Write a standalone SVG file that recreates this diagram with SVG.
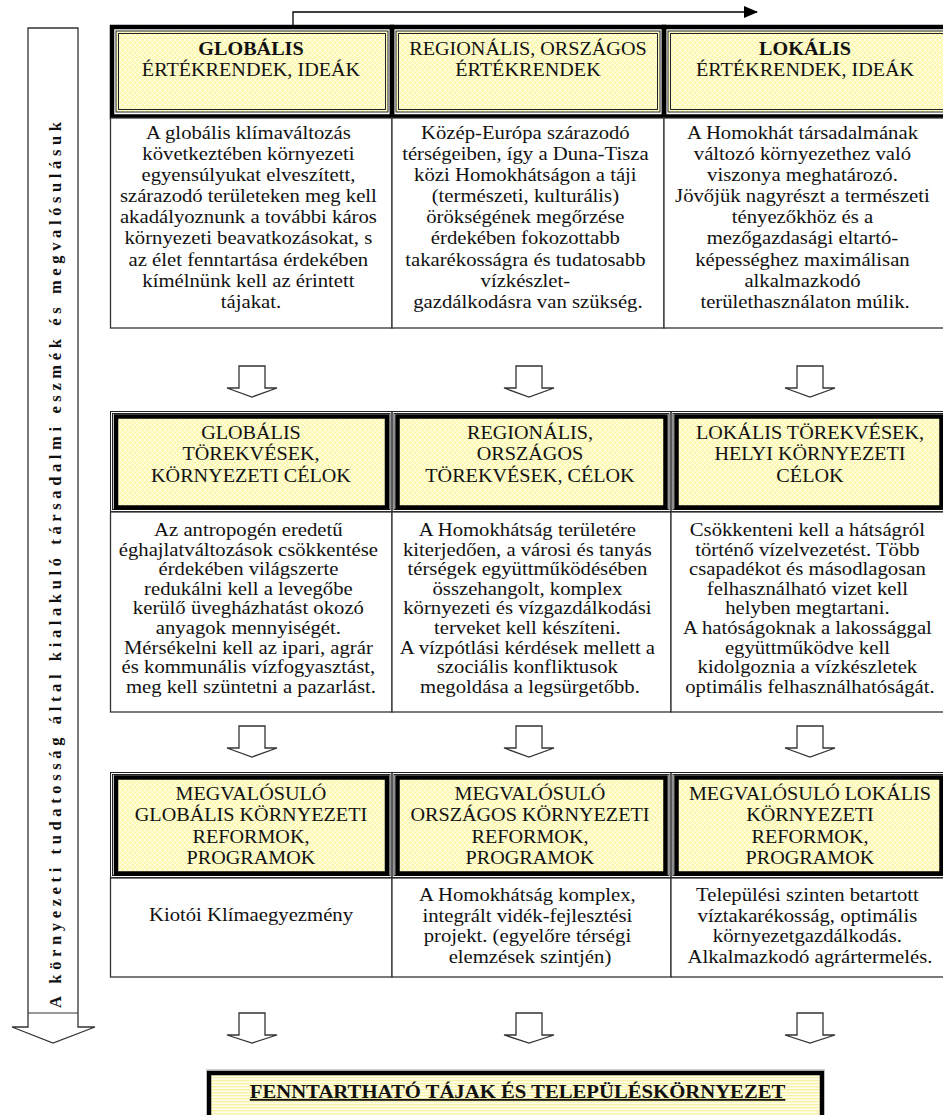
<svg xmlns="http://www.w3.org/2000/svg" width="943" height="1115" viewBox="0 0 943 1115">
  <defs>
    <!-- pale yellow lattice used in the heading boxes -->
    <pattern id="lattice" width="5" height="5" patternUnits="userSpaceOnUse">
      <rect width="5" height="5" fill="#fbf8b2"/>
      <path d="M0 0L5 5M5 0L0 5" stroke="#fffde6" stroke-width="1"/>
    </pattern>
    <!-- horizontal stripes for the closing box -->
    <pattern id="stripes" width="6" height="3" patternUnits="userSpaceOnUse">
      <rect width="6" height="3" fill="#fffeec"/>
      <rect width="6" height="1.4" fill="#f8f2a6"/>
    </pattern>
    <marker id="tri" markerWidth="14" markerHeight="12" refX="13" refY="6" orient="auto" markerUnits="userSpaceOnUse">
      <path d="M0 0L14 6L0 12Z" fill="#000"/>
    </marker>
    <style>
      .t{font-family:"Liberation Serif","Times New Roman",serif;font-size:18.5px;fill:#111;text-anchor:middle}
      .h{font-size:18px}
      .b{font-weight:bold}
      .thick{fill:none;stroke:#000;stroke-width:4.5}
      .thin{fill:none;stroke:#222;stroke-width:1}
      .box{fill:#fff;stroke:#333;stroke-width:1.3}
      .yel{fill:url(#lattice)}
      .yelb{fill:url(#lattice);stroke:#000;stroke-width:4.5}
      .hollow{fill:#fff;stroke:#333;stroke-width:1.3}
      .side{font-family:"Liberation Serif","Times New Roman",serif;font-size:16.5px;font-weight:bold;fill:#111}
    </style>
  </defs>

  <rect width="943" height="1115" fill="#fff"/>

  <!-- vertical side arrow with its caption -->
  <g id="awareness-arrow">
    <path d="M28 28H78V1027H95L53 1043L12 1027H28Z" fill="#fff" stroke="#333" stroke-width="1.3"/>
    <line x1="28" y1="1013" x2="78" y2="1013" stroke="#333" stroke-width="1"/>
    <text class="side" transform="translate(61,1008) rotate(-90)" textLength="886" lengthAdjust="spacing">A környezeti tudatosság által kialakuló társadalmi eszmék és megvalósulásuk</text>
  </g>

  <!-- ===== row 1: values and ideas ===== -->
  <g id="global-values-head">
    <rect class="yel" x="116" y="31" width="272" height="81"/>
    <rect class="thin" x="116" y="31" width="272" height="81"/>
    <rect class="thin" x="118.5" y="33.5" width="267" height="76"/>
    <rect class="thick" x="112" y="27" width="280" height="89.5"/>
    <text class="t h" transform="scale(1.12 1)"><tspan class="b" x="224.1" y="55">GLOBÁLIS</tspan><tspan x="224.1" y="76">ÉRTÉKRENDEK, IDEÁK</tspan></text>
  </g>
  <g id="regional-values-head">
    <rect class="yel" x="396" y="31" width="264" height="81"/>
    <rect class="thin" x="396" y="31" width="264" height="81"/>
    <rect class="thin" x="398.5" y="33.5" width="259" height="76"/>
    <rect class="thick" x="392" y="27" width="272" height="89.5"/>
    <text class="t h" transform="scale(1.12 1)"><tspan x="471.4" y="55">REGIONÁLIS, ORSZÁGOS</tspan><tspan x="471.4" y="76">ÉRTÉKRENDEK</tspan></text>
  </g>
  <g id="local-values-head">
    <rect class="yel" x="668" y="31" width="290" height="81"/>
    <rect class="thin" x="668" y="31" width="290" height="81"/>
    <rect class="thin" x="670.5" y="33.5" width="285" height="76"/>
    <rect class="thick" x="664" y="27" width="300" height="89.5"/>
    <text class="t h" transform="scale(1.12 1)"><tspan class="b" x="718.8" y="55">LOKÁLIS</tspan><tspan x="718.8" y="76">ÉRTÉKRENDEK, IDEÁK</tspan></text>
  </g>

  <g id="global-values-body">
    <rect class="box" x="110.5" y="118" width="281.5" height="210"/>
    <text class="t" transform="scale(1.12 1)">
      <tspan x="224.1" y="139">A globális klímaváltozás</tspan>
      <tspan x="224.1" y="160.1">következtében környezeti</tspan>
      <tspan x="224.1" y="181.2">egyensúlyukat elveszített,</tspan>
      <tspan x="224.1" y="202.3">szárazodó területeken meg kell</tspan>
      <tspan x="224.1" y="223.4">akadályoznunk a további káros</tspan>
      <tspan x="224.1" y="244.5">környezeti beavatkozásokat, s</tspan>
      <tspan x="224.1" y="265.6">az élet fenntartása érdekében</tspan>
      <tspan x="224.1" y="286.7">kímélnünk kell az érintett</tspan>
      <tspan x="224.1" y="308">tájakat.</tspan>
    </text>
  </g>
  <g id="regional-values-body">
    <rect class="box" x="392" y="118" width="272" height="210"/>
    <text class="t" transform="scale(1.12 1)">
      <tspan x="471.4" y="139">Közép-Európa szárazodó</tspan>
      <tspan x="471.4" y="160.1">térségeiben, így a Duna-Tisza</tspan>
      <tspan x="471.4" y="181.2">közi Homokhátságon a táji</tspan>
      <tspan x="471.4" y="202.3">(természeti, kulturális)</tspan>
      <tspan x="471.4" y="223.4">örökségének megőrzése</tspan>
      <tspan x="471.4" y="244.5">érdekében fokozottabb</tspan>
      <tspan x="471.4" y="265.6">takarékosságra és tudatosabb</tspan>
      <tspan x="471.4" y="286.7">vízkészlet-</tspan>
      <tspan x="471.4" y="308">gazdálkodásra van szükség.</tspan>
    </text>
  </g>
  <g id="local-values-body">
    <rect class="box" x="664" y="118" width="300" height="210"/>
    <text class="t" transform="scale(1.12 1)">
      <tspan x="718.8" y="139">A Homokhát társadalmának</tspan>
      <tspan x="718.8" y="160.1">változó környezethez való</tspan>
      <tspan x="718.8" y="181.2">viszonya meghatározó.</tspan>
      <tspan x="718.8" y="202.3">Jövőjük nagyrészt a természeti</tspan>
      <tspan x="718.8" y="223.4">tényezőkhöz és a</tspan>
      <tspan x="718.8" y="244.5">mezőgazdasági eltartó-</tspan>
      <tspan x="718.8" y="265.6">képességhez maximálisan</tspan>
      <tspan x="718.8" y="286.7">alkalmazkodó</tspan>
      <tspan x="718.8" y="308">területhasználaton múlik.</tspan>
    </text>
  </g>

  <!-- ===== row 2: aims ===== -->
  <g id="global-aims-head">
    <rect class="thin" x="110.5" y="411.5" width="281.5" height="100"/>
    <rect class="thin" x="112.5" y="413.5" width="277.5" height="96"/>
    <rect class="yelb" x="116" y="416.5" width="271" height="91"/>
    <text class="t h" transform="scale(1.12 1)"><tspan x="224.1" y="439">GLOBÁLIS</tspan><tspan x="224.1" y="460.5">TÖREKVÉSEK,</tspan><tspan x="224.1" y="482">KÖRNYEZETI CÉLOK</tspan></text>
  </g>
  <g id="regional-aims-head">
    <rect class="thin" x="392" y="411.5" width="279" height="100"/>
    <rect class="thin" x="394" y="413.5" width="275" height="96"/>
    <rect class="yelb" x="397.5" y="416.5" width="268" height="91"/>
    <text class="t h" transform="scale(1.12 1)"><tspan x="473.2" y="439">REGIONÁLIS,</tspan><tspan x="473.2" y="460.5">ORSZÁGOS</tspan><tspan x="473.2" y="482">TÖREKVÉSEK, CÉLOK</tspan></text>
  </g>
  <g id="local-aims-head">
    <rect class="thin" x="671" y="411.5" width="290" height="100"/>
    <rect class="thin" x="673" y="413.5" width="286" height="96"/>
    <rect class="yelb" x="676.5" y="416.5" width="265" height="91"/>
    <text class="t h" transform="scale(1.12 1)"><tspan x="723.2" y="439">LOKÁLIS TÖREKVÉSEK,</tspan><tspan x="723.2" y="460.5">HELYI KÖRNYEZETI</tspan><tspan x="723.2" y="482">CÉLOK</tspan></text>
  </g>

  <g id="global-aims-body">
    <rect class="box" x="110.5" y="512" width="281.5" height="200"/>
    <text class="t" transform="scale(1.12 1)">
      <tspan x="224.1" y="536">Az antropogén eredetű</tspan>
      <tspan x="224.1" y="555.6">éghajlatváltozások csökkentése</tspan>
      <tspan x="224.1" y="575.2">érdekében világszerte</tspan>
      <tspan x="224.1" y="594.8">redukálni kell a levegőbe</tspan>
      <tspan x="224.1" y="614.4">kerülő üvegházhatást okozó</tspan>
      <tspan x="224.1" y="634">anyagok mennyiségét.</tspan>
      <tspan x="224.1" y="653.6">Mérsékelni kell az ipari, agrár</tspan>
      <tspan x="224.1" y="673.2">és kommunális vízfogyasztást,</tspan>
      <tspan x="224.1" y="692.8">meg kell szüntetni a pazarlást.</tspan>
    </text>
  </g>
  <g id="regional-aims-body">
    <rect class="box" x="392" y="512" width="279" height="200"/>
    <text class="t" transform="scale(1.12 1)">
      <tspan x="473.2" y="536">A Homokhátság területére</tspan>
      <tspan x="473.2" y="555.6">kiterjedően, a városi és tanyás</tspan>
      <tspan x="473.2" y="575.2">térségek együttműködésében</tspan>
      <tspan x="473.2" y="594.8">összehangolt, komplex</tspan>
      <tspan x="473.2" y="614.4">környezeti és vízgazdálkodási</tspan>
      <tspan x="473.2" y="634">terveket kell készíteni.</tspan>
      <tspan x="473.2" y="653.6">A vízpótlási kérdések mellett a</tspan>
      <tspan x="473.2" y="673.2">szociális konfliktusok</tspan>
      <tspan x="473.2" y="692.8">megoldása a legsürgetőbb.</tspan>
    </text>
  </g>
  <g id="local-aims-body">
    <rect class="box" x="671" y="512" width="290" height="200"/>
    <text class="t" transform="scale(1.12 1)">
      <tspan x="723.2" y="536">Csökkenteni kell a hátságról</tspan>
      <tspan x="723.2" y="555.6">történő vízelvezetést. Több</tspan>
      <tspan x="723.2" y="575.2">csapadékot és másodlagosan</tspan>
      <tspan x="723.2" y="594.8">felhasználható vizet kell</tspan>
      <tspan x="723.2" y="614.4">helyben megtartani.</tspan>
      <tspan x="723.2" y="634">A hatóságoknak a lakossággal</tspan>
      <tspan x="723.2" y="653.6">együttműködve kell</tspan>
      <tspan x="723.2" y="673.2">kidolgoznia a vízkészletek</tspan>
      <tspan x="723.2" y="692.8">optimális felhasználhatóságát.</tspan>
    </text>
  </g>

  <!-- ===== row 3: reforms and programmes ===== -->
  <g id="global-reforms-head">
    <rect class="thin" x="110.5" y="772.5" width="281.5" height="105"/>
    <rect class="thin" x="112.5" y="774.5" width="277.5" height="101"/>
    <rect class="yelb" x="116" y="777.5" width="271" height="96"/>
    <text class="t h" transform="scale(1.12 1)"><tspan x="224.1" y="800">MEGVALÓSULÓ</tspan><tspan x="224.1" y="821.5">GLOBÁLIS KÖRNYEZETI</tspan><tspan x="224.1" y="843">REFORMOK,</tspan><tspan x="224.1" y="864.5">PROGRAMOK</tspan></text>
  </g>
  <g id="regional-reforms-head">
    <rect class="thin" x="392" y="772.5" width="279" height="105"/>
    <rect class="thin" x="394" y="774.5" width="275" height="101"/>
    <rect class="yelb" x="397.5" y="777.5" width="268" height="96"/>
    <text class="t h" transform="scale(1.12 1)"><tspan x="473.2" y="800">MEGVALÓSULÓ</tspan><tspan x="473.2" y="821.5">ORSZÁGOS KÖRNYEZETI</tspan><tspan x="473.2" y="843">REFORMOK,</tspan><tspan x="473.2" y="864.5">PROGRAMOK</tspan></text>
  </g>
  <g id="local-reforms-head">
    <rect class="thin" x="671" y="772.5" width="290" height="105"/>
    <rect class="thin" x="673" y="774.5" width="286" height="101"/>
    <rect class="yelb" x="676.5" y="777.5" width="265" height="96"/>
    <text class="t h" transform="scale(1.12 1)"><tspan x="723.2" y="800">MEGVALÓSULÓ LOKÁLIS</tspan><tspan x="723.2" y="821.5">KÖRNYEZETI</tspan><tspan x="723.2" y="843">REFORMOK,</tspan><tspan x="723.2" y="864.5">PROGRAMOK</tspan></text>
  </g>

  <g id="global-reforms-body">
    <rect class="box" x="110.5" y="878" width="281.5" height="99"/>
    <text class="t" transform="scale(1.12 1)"><tspan x="224.1" y="921">Kiotói Klímaegyezmény</tspan></text>
  </g>
  <g id="regional-reforms-body">
    <rect class="box" x="392" y="878" width="279" height="99"/>
    <text class="t" transform="scale(1.12 1)">
      <tspan x="473.2" y="901">A Homokhátság komplex,</tspan>
      <tspan x="473.2" y="921.7">integrált vidék-fejlesztési</tspan>
      <tspan x="473.2" y="942.4">projekt. (egyelőre térségi</tspan>
      <tspan x="473.2" y="963">elemzések szintjén)</tspan>
    </text>
  </g>
  <g id="local-reforms-body">
    <rect class="box" x="671" y="878" width="290" height="99"/>
    <text class="t" transform="scale(1.12 1)">
      <tspan x="723.2" y="901">Települési szinten betartott</tspan>
      <tspan x="723.2" y="921.7">víztakarékosság, optimális</tspan>
      <tspan x="723.2" y="942.4">környezetgazdálkodás.</tspan>
      <tspan x="723.2" y="963">Alkalmazkodó agrártermelés.</tspan>
    </text>
  </g>

  <!-- ===== closing goal ===== -->
  <g id="sustainable-landscapes">
    <rect x="209" y="1073" width="613" height="60" fill="url(#stripes)" stroke="#000" stroke-width="4.5"/>
    <line x1="206" y1="1070" x2="825" y2="1070" stroke="#999" stroke-width="1"/>
    <text class="t b" font-size="19" text-decoration="underline" transform="scale(1.12 1)" x="462.1" y="1098">FENNTARTHATÓ TÁJAK ÉS TELEPÜLÉSKÖRNYEZET</text>
  </g>

  <!-- ===== connectors ===== -->
  <g id="connectors">
    <path d="M293 26V12H757" fill="none" stroke="#000" stroke-width="1.3" marker-end="url(#tri)"/>
    <!-- hollow block arrows between the rows -->
    <path class="hollow" d="M239 366H265V388H277L252 397L227 388H239Z"/>
    <path class="hollow" d="M516 366H542V388H554L529 397L504 388H516Z"/>
    <path class="hollow" d="M797 366H823V388H835L810 397L785 388H797Z"/>
    <path class="hollow" d="M239 726H265V748H277L252 757L227 748H239Z"/>
    <path class="hollow" d="M516 726H542V748H554L529 757L504 748H516Z"/>
    <path class="hollow" d="M797 726H823V748H835L810 757L785 748H797Z"/>
    <path class="hollow" d="M239 1013H265V1035H277L252 1043L227 1035H239Z"/>
    <path class="hollow" d="M516 1013H542V1035H554L529 1043L504 1035H516Z"/>
    <path class="hollow" d="M797 1013H823V1035H835L810 1043L785 1035H797Z"/>
  </g>
</svg>
